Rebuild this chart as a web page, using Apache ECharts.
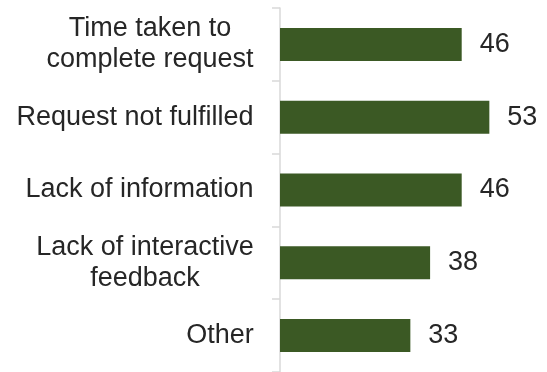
<!DOCTYPE html>
<html>
<head>
<meta charset="utf-8">
<script src="https://cdn.jsdelivr.net/npm/echarts@6/dist/echarts.min.js"></script>
<style>
  html, body { margin: 0; padding: 0; background: #fff; }
  #chart { width: 547px; height: 372px; }
</style>
</head>
<body>
<div id="chart"></div>
<script>
// Reasons given, one line per entry (line breaks kept as in the labels)
var categories = [
  'Time taken to\ncomplete request',
  'Request not fulfilled',
  'Lack of information',
  'Lack of interactive\nfeedback',
  'Other'
];
var values = [46, 53, 46, 38, 33];

var FONT = '"Liberation Sans", Arial, sans-serif';
var FONT_SIZE = 27;

// Measure a label block so that its lines can be centred within it
var ctx = document.createElement('canvas').getContext('2d');
ctx.font = FONT_SIZE + 'px ' + FONT;
function blockWidth(text) {
  return Math.max.apply(null, text.split('\n').map(function (l) {
    return Math.ceil(ctx.measureText(l).width);
  }));
}

var rich = {};
categories.forEach(function (c, i) {
  rich['c' + i] = {
    width: blockWidth(c),
    align: 'center',
    fontSize: FONT_SIZE,
    fontFamily: FONT,
    lineHeight: 31,
    color: '#262626'
  };
});

var chart = echarts.init(document.getElementById('chart'));
chart.setOption({
  animation: false,
  grid: { left: 280, right: 30, top: 8, bottom: -1, containLabel: false },
  xAxis: {
    type: 'value',
    min: 0,
    max: 60,
    show: false
  },
  yAxis: {
    type: 'category',
    data: categories,
    inverse: true,
    axisLine: { show: true, lineStyle: { color: '#d9d9d9', width: 1.5 } },
    axisTick: { show: true, length: 8, lineStyle: { color: '#d9d9d9', width: 1.5 } },
    axisLabel: {
      margin: 26,
      formatter: function (v, i) {
        return v.split('\n').map(function (l) {
          return '{c' + i + '|' + l + '}';
        }).join('\n');
      },
      rich: rich
    },
    splitLine: { show: false }
  },
  series: [{
    type: 'bar',
    data: values,
    barWidth: 33,
    itemStyle: { color: '#3b5924' },
    label: {
      show: true,
      position: 'right',
      distance: 18,
      fontSize: FONT_SIZE,
      fontFamily: FONT,
      color: '#262626'
    }
  }]
});
</script>
</body>
</html>
